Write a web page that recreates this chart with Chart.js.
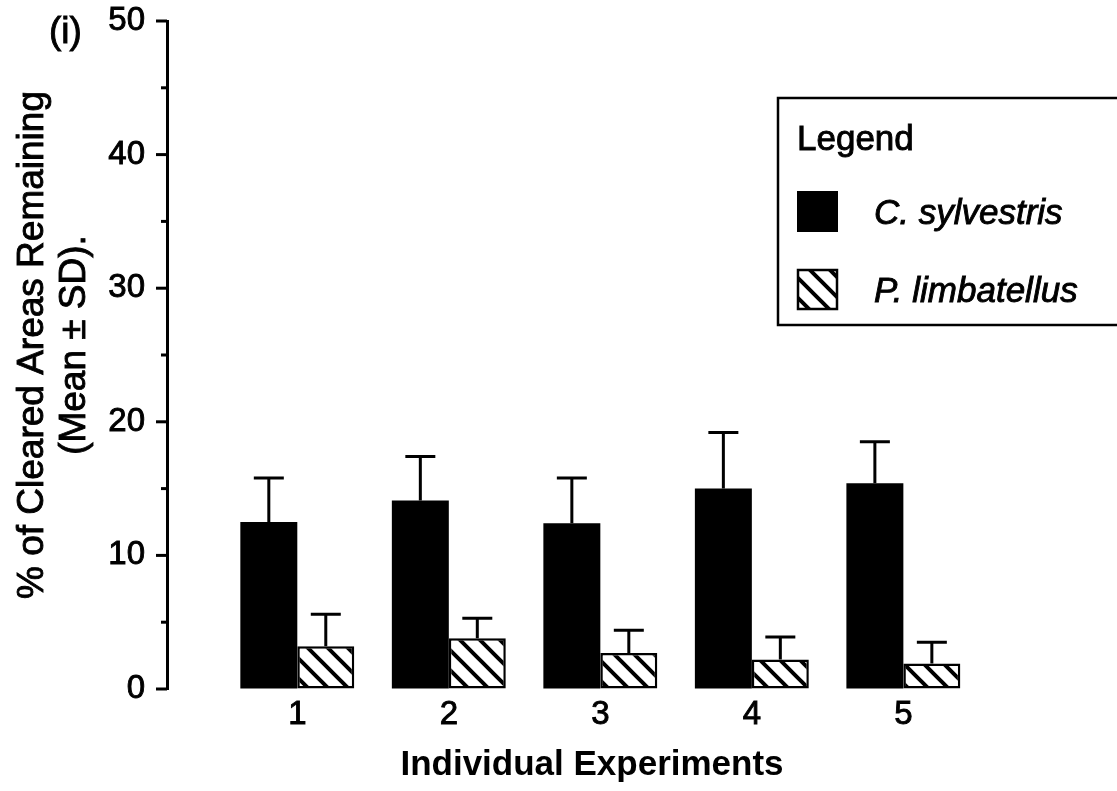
<!DOCTYPE html>
<html>
<head>
<meta charset="utf-8">
<script src="https://cdn.jsdelivr.net/npm/chart.js@4"></script>
<style>
  html, body { margin: 0; padding: 0; background: #fff; }
  #wrap { width: 1117px; height: 791px; }
</style>
</head>
<body>
<div id="wrap"><canvas id="clearedChart" width="1117" height="791"></canvas></div>
<script>
const experiments = [1, 2, 3, 4, 5];
const sylvestrisMean = [12.5, 14.1, 12.4, 15.0, 15.4];
const sylvestrisSD = [3.3, 3.3, 3.4, 4.2, 3.1];
const limbatellusMean = [3.2, 3.8, 2.7, 2.2, 1.9];
const limbatellusSD = [2.4, 1.5, 1.7, 1.7, 1.6];
const yTicks = [0, 5, 10, 15, 20, 25, 30, 35, 40, 45, 50];
const yTitle = ['% of Cleared Areas Remaining', '(Mean \u00b1 SD).'];

const FONT = "'Liberation Sans', Arial, Helvetica, sans-serif";
const INK = 0.9; // slight stroke so the type looks as heavy as the print

// diagonal "\\\" hatch used for the second species
function makeHatch() {
  const s = 20;
  const c = document.createElement('canvas');
  c.width = s; c.height = s;
  const g = c.getContext('2d');
  g.fillStyle = '#fff';
  g.fillRect(0, 0, s, s);
  g.strokeStyle = '#000';
  g.lineWidth = 4;
  g.beginPath();
  g.moveTo(-4, -4); g.lineTo(s + 4, s + 4);
  g.moveTo(s - 4, -4); g.lineTo(s + 4, 4);
  g.moveTo(-4, s - 4); g.lineTo(4, s + 4);
  g.stroke();
  return g.createPattern(c, 'repeat');
}
const hatch = makeHatch();

function inkText(ctx, text, x, y) {
  ctx.fillText(text, x, y);
  ctx.lineWidth = INK;
  ctx.strokeText(text, x, y);
}

// error whiskers (upper half only) with a cap
const errorBars = {
  id: 'errorBars',
  afterDatasetsDraw(chart) {
    const { ctx, scales: { y } } = chart;
    ctx.save();
    ctx.strokeStyle = '#000';
    ctx.lineWidth = 3;
    chart.data.datasets.forEach((ds, i) => {
      const meta = chart.getDatasetMeta(i);
      meta.data.forEach((bar, j) => {
        const top = y.getPixelForValue(ds.data[j].y + ds.sd[j]);
        ctx.beginPath();
        ctx.moveTo(bar.x, bar.y);
        ctx.lineTo(bar.x, top);
        ctx.moveTo(bar.x - 15, top);
        ctx.lineTo(bar.x + 15, top);
        ctx.stroke();
      });
    });
    ctx.restore();
  }
};

// tick marks on the value axis: long at multiples of 10, short between
const yTickMarks = {
  id: 'yTickMarks',
  afterDraw(chart) {
    const { ctx, scales: { y } } = chart;
    ctx.save();
    ctx.strokeStyle = '#000';
    ctx.lineWidth = 3;
    y.ticks.forEach(t => {
      const py = y.getPixelForValue(t.value);
      const len = t.value % 10 === 0 ? 11 : 6;
      ctx.beginPath();
      ctx.moveTo(y.right - len, py);
      ctx.lineTo(y.right, py);
      ctx.stroke();
    });
    ctx.restore();
  }
};

// rotated two-line axis title, boxed legend and panel tag
const annotations = {
  id: 'annotations',
  afterDraw(chart) {
    const { ctx } = chart;
    ctx.save();
    ctx.fillStyle = '#000';
    ctx.strokeStyle = '#000';

    ctx.save();
    ctx.translate(33, 345);
    ctx.rotate(-Math.PI / 2);
    ctx.textAlign = 'center';
    ctx.textBaseline = 'middle';
    ctx.font = '37px ' + FONT;
    yTitle.forEach((line, i) => inkText(ctx, line, 0, i * 42));
    ctx.restore();

    ctx.textBaseline = 'alphabetic';
    ctx.font = '37px ' + FONT;
    inkText(ctx, '(i)', 49, 43);

    ctx.lineWidth = 2.5;
    ctx.strokeRect(778, 98, 360, 227);
    ctx.font = '35px ' + FONT;
    inkText(ctx, 'Legend', 797, 150);

    const rows = [211, 289];
    chart.data.datasets.forEach((ds, i) => {
      const cy = rows[i];
      ctx.fillStyle = ds.backgroundColor;
      ctx.fillRect(797, cy - 20, 41, 41);
      if (ds.borderWidth) {
        ctx.lineWidth = 2.5;
        ctx.strokeRect(798, cy - 19, 39, 39);
      }
      ctx.fillStyle = '#000';
      ctx.font = 'italic 35px ' + FONT;
      inkText(ctx, ds.label, 874, cy + 13);
    });
    ctx.restore();
  }
};

new Chart(document.getElementById('clearedChart'), {
  type: 'bar',
  plugins: [errorBars, yTickMarks, annotations],
  data: {
    datasets: [
      {
        label: 'C. sylvestris',
        data: experiments.map((e, i) => ({ x: e, y: sylvestrisMean[i] })),
        sd: sylvestrisSD,
        backgroundColor: '#000',
        borderWidth: 0
      },
      {
        label: 'P. limbatellus',
        data: experiments.map((e, i) => ({ x: e, y: limbatellusMean[i] })),
        sd: limbatellusSD,
        backgroundColor: hatch,
        borderColor: '#000',
        borderWidth: 2.5,
        borderSkipped: false
      }
    ]
  },
  options: {
    responsive: false,
    animation: false,
    categoryPercentage: 0.752,
    barPercentage: 1.0,
    layout: { padding: { top: 21, right: 100, bottom: 0, left: 0 } },
    plugins: {
      legend: { display: false },
      tooltip: { enabled: false }
    },
    scales: {
      x: {
        type: 'linear',
        offset: false,
        min: 0.14,
        max: 5.75,
        afterBuildTicks: axis => { axis.ticks = experiments.map(v => ({ value: v })); },
        afterFit: axis => { axis.height = 102; },
        grid: { display: false, drawTicks: false },
        border: { display: false },
        ticks: {
          color: '#000',
          padding: 6,
          textStrokeColor: '#000',
          textStrokeWidth: INK,
          font: { family: FONT, size: 33 }
        },
        title: {
          display: true,
          text: 'Individual Experiments',
          color: '#000',
          padding: { top: 0, bottom: 5 },
          font: { family: FONT, size: 35, weight: 'bold' }
        }
      },
      y: {
        min: 0,
        max: 50,
        afterBuildTicks: axis => { axis.ticks = yTicks.map(v => ({ value: v })); },
        afterFit: axis => { axis.width = 167; },
        grid: {
          display: true,
          drawOnChartArea: false,
          drawTicks: true,
          tickLength: 20,
          color: 'rgba(0,0,0,0)'
        },
        border: { display: true, color: '#000', width: 3 },
        ticks: {
          color: '#000',
          padding: 2,
          textStrokeColor: '#000',
          textStrokeWidth: INK,
          font: { family: FONT, size: 33, lineHeight: 1.0 },
          callback: v => (v % 10 === 0 ? v : '')
        }
      }
    }
  }
});
</script>
</body>
</html>
